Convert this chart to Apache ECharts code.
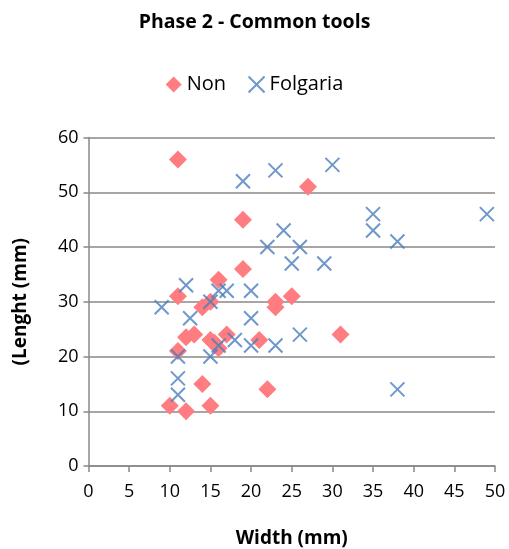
<!DOCTYPE html>
<html><head><meta charset="utf-8">
<script src="https://cdn.jsdelivr.net/npm/echarts@6/dist/echarts.min.js"></script>
<style>html,body{margin:0;padding:0;background:#fff}#c{width:509px;height:549px}</style>
</head><body><div id="c"></div>
<script>
const nonX = [11,27,19,19,16,11,25,23,23,14,15,12,13,11,15,16,17,21,31,14,22,10,12,15,15.5];
const nonY = [56,51,45,36,34,31,31,30,29,29,30,23.5,24,21,23,21.5,24,23,24,15,14,11,10,11,22.5];
const folX = [19,23,30,24,22,26,25,29,35,35,38,49,38,12,9,12.5,15,16,17,20,20,18,16,15,20,23,26,11,11,11];
const folY = [52,54,55,43,40,40,37,37,46,43,41,46,14,33,29,27,30,32,32,32,27,23,22,20,22,22,24,20,16,13];
const xTicks = [0,5,10,15,20,25,30,35,40,45,50];
const yTicks = [0,10,20,30,40,50,60];

const font = '"Open Sans", "Liberation Sans", sans-serif';
const chart = echarts.init(document.getElementById('c'), null, {renderer:'canvas'});
chart.setOption({
  animation:false,
  title:{text:'Phase 2 - Common tools', left:'center', top:7,
    textStyle:{fontFamily:font, fontSize:19.5, fontWeight:'bold', color:'#000'}},
  legend:{top:69, left:'center', itemGap:20, itemWidth:16, itemHeight:16,
    textStyle:{fontFamily:font, fontSize:20, color:'#000'},
    data:['Non','Folgaria']},
  grid:{left:88.5, right:14, top:137.5, bottom:83, containLabel:false, outerBoundsMode:'none'},
  xAxis:{type:'value', min:xTicks[0], max:xTicks[xTicks.length-1], interval:5,
    name:'Width (mm)', nameLocation:'middle', nameGap:63,
    nameTextStyle:{fontFamily:font, fontSize:19, fontWeight:'bold', color:'#000'},
    axisLine:{lineStyle:{color:'#888', width:1.5}},
    axisTick:{show:true, length:6, lineStyle:{color:'#888', width:1.5}},
    axisLabel:{fontFamily:font, fontSize:18, color:'#000', margin:17},
    splitLine:{show:false}},
  yAxis:{type:'value', min:yTicks[0], max:yTicks[yTicks.length-1], interval:10,
    name:'(Lenght (mm)', nameLocation:'middle', nameGap:58, nameRotate:90,
    nameTextStyle:{fontFamily:font, fontSize:19, fontWeight:'bold', color:'#000'},
    axisLine:{show:true, lineStyle:{color:'#888', width:1.5}},
    axisTick:{show:true, length:5, lineStyle:{color:'#888', width:1.5}},
    axisLabel:{fontFamily:font, fontSize:18, color:'#000', margin:10},
    splitLine:{show:true, lineStyle:{color:'#888', width:1.5}}},
  series:[
    {name:'Non', type:'scatter', symbol:'diamond', symbolSize:18,
     itemStyle:{color:'#FF7C80', opacity:1},
     data:nonX.map((x,i)=>[x,nonY[i]])},
    {name:'Folgaria', type:'scatter', symbol:'path://M0,0L10,10M10,0L0,10', symbolSize:14,
     itemStyle:{color:'none', borderColor:'#4A7EBB', borderWidth:2},
     data:folX.map((x,i)=>[x,folY[i]])}
  ]
});
</script></body></html>
